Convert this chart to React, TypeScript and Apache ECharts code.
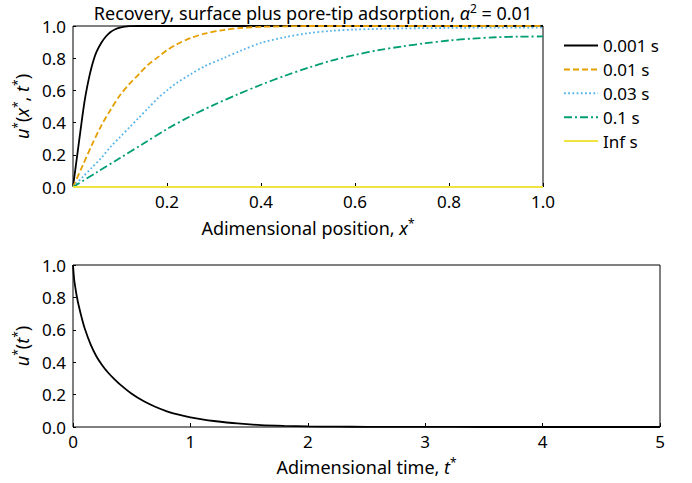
import React, { useEffect, useRef } from "react";
import * as echarts from "echarts";

// ---------- data ----------
const seriesNames = ["0.001 s", "0.01 s", "0.03 s", "0.1 s", "Inf s"];

const xBlack = [0, 0.005, 0.01, 0.015, 0.02, 0.025, 0.03, 0.035, 0.04, 0.045, 0.05, 0.06, 0.07, 0.08, 0.09, 0.1, 0.11, 0.12, 0.14, 0.2, 0.3, 0.4, 0.5, 0.6, 0.7, 0.8, 0.9, 1.0];
const yBlack = [0, 0.11, 0.22, 0.33, 0.44, 0.54, 0.62, 0.69, 0.75, 0.8, 0.84, 0.895, 0.935, 0.963, 0.98, 0.99, 0.996, 0.999, 1, 1, 1, 1, 1, 1, 1, 1, 1, 1];

const xOrange = [0, 0.02, 0.04, 0.06, 0.08, 0.1, 0.12, 0.14, 0.16, 0.18, 0.2, 0.22, 0.25, 0.28, 0.32, 0.36, 0.4, 0.45, 0.5, 0.6, 0.7, 0.8, 0.9, 1.0];
const yOrange = [0, 0.13, 0.26, 0.38, 0.48, 0.57, 0.64, 0.7, 0.76, 0.805, 0.85, 0.885, 0.925, 0.952, 0.975, 0.988, 0.995, 0.998, 1, 1, 1, 1, 1, 1];

const xBlue = [0, 0.02, 0.04, 0.06, 0.08, 0.1, 0.12, 0.14, 0.16, 0.18, 0.2, 0.22, 0.25, 0.28, 0.32, 0.36, 0.4, 0.45, 0.5, 0.55, 0.6, 0.7, 0.8, 0.9, 1.0];
const yBlue = [0, 0.06, 0.12, 0.18, 0.25, 0.31, 0.37, 0.43, 0.49, 0.55, 0.6, 0.645, 0.7, 0.75, 0.8, 0.85, 0.895, 0.93, 0.955, 0.97, 0.978, 0.985, 0.988, 0.99, 0.99];

const xGreen = [0, 0.05, 0.1, 0.15, 0.2, 0.25, 0.3, 0.35, 0.4, 0.45, 0.5, 0.55, 0.6, 0.65, 0.7, 0.75, 0.8, 0.85, 0.9, 0.95, 1.0];
const yGreen = [0, 0.09, 0.18, 0.27, 0.36, 0.44, 0.51, 0.575, 0.635, 0.69, 0.74, 0.785, 0.82, 0.85, 0.873, 0.893, 0.91, 0.922, 0.93, 0.934, 0.935];

const xYellow = [0, 0.25, 0.5, 0.75, 1.0];
const yYellow = [0, 0, 0, 0, 0];

const tTime = [0, 0.01, 0.02, 0.03, 0.05, 0.075, 0.1, 0.15, 0.2, 0.25, 0.3, 0.35, 0.4, 0.5, 0.6, 0.7, 0.8, 0.9, 1.0, 1.1, 1.2, 1.4, 1.6, 1.8, 2.0, 2.25, 2.5, 3.0, 3.5, 4.0, 5.0];
const uTime = [1.0, 0.91, 0.86, 0.815, 0.745, 0.672, 0.608, 0.51, 0.435, 0.38, 0.335, 0.297, 0.263, 0.205, 0.16, 0.125, 0.097, 0.076, 0.06, 0.047, 0.037, 0.022, 0.012, 0.007, 0.004, 0.002, 0.001, 0.0003, 0.0001, 0, 0];

const colors = ["#000000", "#E69F00", "#56B4E9", "#009E73", "#F0E442"];

const FONT = "Noto Sans";

const pairs = (xs: number[], ys: number[]) => xs.map((x, i) => [x, ys[i]]);

export default function App() {
  const ref = useRef<HTMLDivElement>(null);
  useEffect(() => {
    if (!ref.current) return;
    const chart = echarts.init(ref.current, undefined, { renderer: "svg" });
    const supStyle = { fontSize: 12, lineHeight: 12, verticalAlign: "top" as const, fontFamily: FONT, color: "#000" };
    const itStyle = { fontStyle: "italic" as const, fontSize: 18, lineHeight: 22, fontFamily: FONT, color: "#000" };
    const tickText = { color: "#000", fontSize: 17, fontFamily: FONT };
    const nameText = { color: "#000", fontSize: 18, fontFamily: FONT, lineHeight: 22, rich: { i: itStyle, sup: supStyle } };
    const lineDefs = [
      { x: xBlack, y: yBlack, type: "solid" as any, width: 1.8 },
      { x: xOrange, y: yOrange, type: [6, 3], width: 1.8 },
      { x: xBlue, y: yBlue, type: [1.8, 2.4], width: 1.8 },
      { x: xGreen, y: yGreen, type: [8, 3, 2, 3], width: 1.8 },
      { x: xYellow, y: yYellow, type: "solid" as any, width: 2 },
    ];
    const tickCommon = { show: true, inside: true, lineStyle: { color: "#000" } };
    const option: any = {
      animation: false,
      textStyle: { fontFamily: FONT },
      title: {
        text: "Recovery, surface plus pore-tip adsorption, {i|α}{sup|2} = 0.01",
        left: 308,
        textAlign: "center",
        top: -3,
        textStyle: {
          fontSize: 18,
          fontWeight: "normal",
          color: "#000",
          fontFamily: FONT,
          lineHeight: 22,
          rich: { i: itStyle, sup: supStyle },
        },
      },
      legend: {
        orient: "vertical",
        left: 563,
        top: 37,
        padding: 0,
        itemWidth: 34,
        itemHeight: 14,
        itemGap: 6.9,
        data: seriesNames,
        itemStyle: { opacity: 0, borderWidth: 0 },
        textStyle: { fontSize: 17, color: "#000", fontFamily: FONT, lineHeight: 14 },
      },
      grid: [
        { left: 73, top: 26, width: 470, height: 161, show: true, borderColor: "#000", borderWidth: 1, backgroundColor: "transparent" },
        { left: 73, top: 265, width: 587, height: 162, show: true, borderColor: "#000", borderWidth: 1, backgroundColor: "transparent" },
      ],
      xAxis: [
        {
          gridIndex: 0,
          type: "value",
          min: 0,
          max: 1,
          interval: 0.2,
          name: "Adimensional position, {i|x}{sup|*}",
          nameLocation: "middle",
          nameGap: 30,
          nameMoveOverlap: false,
          nameTextStyle: nameText,
          axisLine: { show: false },
          axisTick: { ...tickCommon, length: 4 },
          splitLine: { show: false },
          axisLabel: { ...tickText, margin: 6, showMinLabel: false, formatter: (v: number) => (v === 0 ? "" : v.toFixed(1)) },
        },
        {
          gridIndex: 1,
          type: "value",
          min: 0,
          max: 5,
          interval: 1,
          name: "Adimensional time, {i|t}{sup|*}",
          nameLocation: "middle",
          nameGap: 29,
          nameMoveOverlap: false,
          nameTextStyle: nameText,
          axisLine: { show: false },
          axisTick: { ...tickCommon, length: 4 },
          splitLine: { show: false },
          axisLabel: { ...tickText, margin: 6, formatter: (v: number) => String(v) },
        },
      ],
      yAxis: [
        {
          gridIndex: 0,
          type: "value",
          min: 0,
          max: 1,
          interval: 0.2,
          name: "{i|u}{sup|*}({i|x}{sup|*}, {i|t}{sup|*})",
          nameLocation: "middle",
          nameRotate: 90,
          nameGap: 40,
          nameMoveOverlap: false,
          nameTextStyle: nameText,
          axisLine: { show: false },
          axisTick: { ...tickCommon, length: 3 },
          splitLine: { show: false },
          axisLabel: { ...tickText, margin: 7, formatter: (v: number) => v.toFixed(1) },
        },
        {
          gridIndex: 1,
          type: "value",
          min: 0,
          max: 1,
          interval: 0.2,
          name: "{i|u}{sup|*}({i|t}{sup|*})",
          nameLocation: "middle",
          nameRotate: 90,
          nameGap: 40,
          nameMoveOverlap: false,
          nameTextStyle: nameText,
          axisLine: { show: false },
          axisTick: { ...tickCommon, length: 3 },
          splitLine: { show: false },
          axisLabel: { ...tickText, margin: 7, formatter: (v: number) => v.toFixed(1) },
        },
      ],
      series: [
        ...lineDefs.map((d, i) => ({
          name: seriesNames[i],
          type: "line",
          xAxisIndex: 0,
          yAxisIndex: 0,
          data: pairs(d.x, d.y),
          smooth: 0.3,
          symbol: "none",
          clip: false,
          color: colors[i],
          lineStyle: { color: colors[i], width: d.width, type: d.type },
        })),
        {
          name: "u(t)",
          type: "line",
          xAxisIndex: 1,
          yAxisIndex: 1,
          data: pairs(tTime, uTime),
          smooth: 0.3,
          symbol: "none",
          clip: false,
          color: "#000",
          lineStyle: { color: "#000", width: 1.8 },
        },
      ],
    };
    chart.setOption(option);
    return () => chart.dispose();
  }, []);
  return <div ref={ref} style={{ position: "fixed", left: 0, top: 0, width: 692, height: 483, background: "#fff" }} />;
}
